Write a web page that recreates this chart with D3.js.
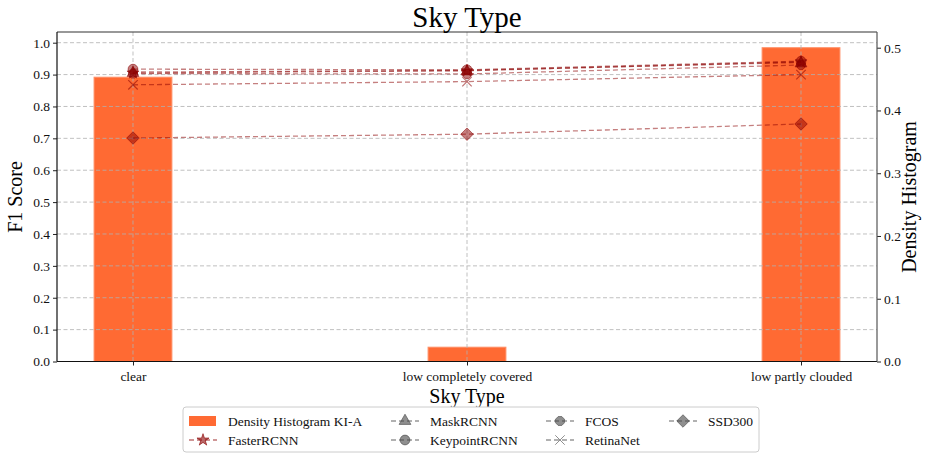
<!DOCTYPE html>
<html><head><meta charset="utf-8">
<script src="https://cdn.jsdelivr.net/npm/d3@7/dist/d3.min.js"></script>
<style>body{margin:0;background:#fff}svg{display:block}svg text{font-family:"Liberation Serif","Times New Roman",serif !important}</style>
</head><body><svg id="c" width="939" height="456" font-family="Liberation Serif"></svg>
<script>
const categories = ["clear", "low completely covered", "low partly clouded"];
const density = [0.453, 0.0228, 0.5];
const fasterRCNN = [0.905, 0.912, 0.940];
const maskRCNN = [0.908, 0.913, 0.938];
const keypointRCNN = [0.917, 0.915, 0.942];
const fcos = [0.903, 0.902, 0.930];
const retinaNet = [0.868, 0.878, 0.900];
const ssd300 = [0.701, 0.713, 0.745];
const f1Ticks = [0, 0.1, 0.2, 0.3, 0.4, 0.5, 0.6, 0.7, 0.8, 0.9, 1.0];
const densTicks = [0, 0.1, 0.2, 0.3, 0.4, 0.5];

const series = [
  {name: "FasterRCNN", values: fasterRCNN, sym: d3.symbolStar, size: 45},
  {name: "MaskRCNN", values: maskRCNN, sym: d3.symbolTriangle, size: 60},
  {name: "KeypointRCNN", values: keypointRCNN, sym: d3.symbolCircle, size: 75},
  {name: "FCOS", values: fcos, sym: "oct", size: 70},
  {name: "RetinaNet", values: retinaNet, sym: d3.symbolX, size: 60},
  {name: "SSD300", values: ssd300, sym: d3.symbolDiamond2, size: 100}
];

const SERIF = '"Liberation Serif", "Times New Roman", serif';
const svg = d3.select("#c");
const L = 57, R = 877, T = 32, B = 361.5;
const x = d3.scaleLinear().domain([-0.2275, 2.2275]).range([L, R]);
const yL = d3.scaleLinear().domain([0, 1]).range([B, 42.7]);
const yR = d3.scaleLinear().domain([0, 0.5]).range([B, 47.7]);
const barW = 0.233;
const red = "#8b0000";

function octPath(r){ let p=[]; for(let i=0;i<8;i++){const a=Math.PI/8+i*Math.PI/4; p.push([r*Math.cos(a), r*Math.sin(a)]);} return "M"+p.map(q=>q.join(",")).join("L")+"Z"; }
function symPath(s){ if(s.sym==="oct") return octPath(4.8); return d3.symbol().type(s.sym).size(s.size)(); }

// bars
svg.append("g").selectAll("rect").data(density).join("rect")
  .attr("x", (d,i)=>x(i-barW/2)).attr("width", x(barW)-x(0))
  .attr("y", d=>yR(d)).attr("height", d=>B-yR(d))
  .attr("fill", "#ff6a33").attr("stroke", "#ff8f66").attr("stroke-width", 1);

// grid
const grid = svg.append("g").attr("stroke", "#b0b0b0").attr("stroke-width", 0.8).attr("stroke-dasharray", "4,2.5");
grid.selectAll(".gy").data(f1Ticks).join("line").attr("x1", L).attr("x2", R).attr("y1", d=>yL(d)).attr("y2", d=>yL(d));
grid.selectAll(".gx").data(categories).join("line").attr("y1", T).attr("y2", B).attr("x1", (d,i)=>x(i)).attr("x2", (d,i)=>x(i));

// lines
const line = d3.line().x((d,i)=>x(i)).y(d=>yL(d));
series.forEach(s=>{
  svg.append("path").datum(s.values).attr("d", line).attr("fill","none")
    .attr("stroke", red).attr("stroke-opacity", 0.5).attr("stroke-width", 1.3).attr("stroke-dasharray", "5,3");
});
series.forEach(s=>{
  svg.append("g").selectAll("path").data(s.values).join("path")
    .attr("transform", (d,i)=>`translate(${x(i)},${yL(d)})${s.sym===d3.symbolTriangle?" translate(0,1)":""}`)
    .attr("d", symPath(s))
    .attr("fill", s.sym===d3.symbolX ? "none" : red).attr("fill-opacity", 0.5)
    .attr("stroke", red).attr("stroke-opacity", 0.55).attr("stroke-width", s.sym===d3.symbolX?1.2:1);
});

// axes
const fmt = d3.format(".1f");
const axL = svg.append("g").attr("transform", `translate(${L},0)`).call(d3.axisLeft(yL).tickValues(f1Ticks).tickFormat(fmt).tickSize(4).tickPadding(3));
const axR = svg.append("g").attr("transform", `translate(${R},0)`).call(d3.axisRight(yR).tickValues(densTicks).tickFormat(fmt).tickSize(4).tickPadding(3));
const axB = svg.append("g").attr("transform", `translate(0,${B})`).call(d3.axisBottom(x).tickValues([0,1,2]).tickFormat(i=>categories[i]).tickSize(4).tickPadding(6));
[axL, axR, axB].forEach(a=>{ a.attr("font-family", SERIF); a.select(".domain").remove(); a.selectAll("text").attr("font-size", 13.5).attr("fill", "#111"); a.selectAll("line").attr("stroke", "#222"); });
// frame
svg.append("line").attr("x1",L).attr("x2",R).attr("y1",T).attr("y2",T).attr("stroke","#333").attr("stroke-width",1.2);
svg.append("line").attr("x1",L).attr("x2",R).attr("y1",B).attr("y2",B).attr("stroke","#111").attr("stroke-width",1.2);
svg.append("line").attr("x1",L).attr("x2",L).attr("y1",T).attr("y2",B).attr("stroke","#111").attr("stroke-width",1.2);
svg.append("line").attr("x1",R).attr("x2",R).attr("y1",T).attr("y2",B).attr("stroke","#555").attr("stroke-width",1.2);

// labels
svg.append("text").attr("x", 467).attr("y", 27).attr("text-anchor","middle").attr("font-size", 29).attr("font-family", SERIF).text("Sky Type");
svg.append("text").attr("x", 467).attr("y", 403).attr("text-anchor","middle").attr("font-size", 20).attr("font-family", SERIF).text("Sky Type");
svg.append("text").attr("transform","translate(22,197) rotate(-90)").attr("text-anchor","middle").attr("font-size", 20).attr("font-family", SERIF).text("F1 Score");
svg.append("text").attr("transform","translate(916,197) rotate(-90)").attr("text-anchor","middle").attr("font-size", 20).attr("font-family", SERIF).text("Density Histogram");

// legend
const lg = svg.append("g").attr("font-family", SERIF);
lg.append("rect").attr("x", 183).attr("y", 407).attr("width", 576).attr("height", 45).attr("rx", 3)
  .attr("fill", "#fff").attr("stroke", "#ccc").attr("stroke-width", 1);
const colX = [189, 391, 546, 669];
const rowY = [421, 440];
const items = [
  {name: "Density Histogram KI-A", patch: true, c: 0, r: 0},
  {name: "MaskRCNN", s: series[1], c: 1, r: 0, col: "#444"},
  {name: "FCOS", s: series[3], c: 2, r: 0, col: "#444"},
  {name: "SSD300", s: series[5], c: 3, r: 0, col: "#444"},
  {name: "FasterRCNN", s: series[0], c: 0, r: 1, col: red},
  {name: "KeypointRCNN", s: series[2], c: 1, r: 1, col: "#444"},
  {name: "RetinaNet", s: series[4], c: 2, r: 1, col: "#444"}
];
items.forEach(it=>{
  const x0 = colX[it.c], y0 = rowY[it.r];
  if (it.patch) {
    lg.append("rect").attr("x", x0).attr("y", y0-5).attr("width", 27).attr("height", 10).attr("fill", "#ff6a33");
  } else {
    lg.append("line").attr("x1", x0).attr("x2", x0+28).attr("y1", y0).attr("y2", y0)
      .attr("stroke", it.col).attr("stroke-opacity", 0.55).attr("stroke-width", 1.3).attr("stroke-dasharray", "5,3");
    lg.append("path").attr("transform", `translate(${x0+14},${y0})`).attr("d", symPath(it.s))
      .attr("fill", it.s.sym===d3.symbolX ? "none" : it.col).attr("fill-opacity", 0.6)
      .attr("stroke", it.col).attr("stroke-opacity", 0.6);
  }
  lg.append("text").attr("x", x0+39).attr("y", y0+4.5).attr("font-size", 13.5).attr("font-family", SERIF).attr("fill", "#111").text(it.name);
});
</script></body></html>
